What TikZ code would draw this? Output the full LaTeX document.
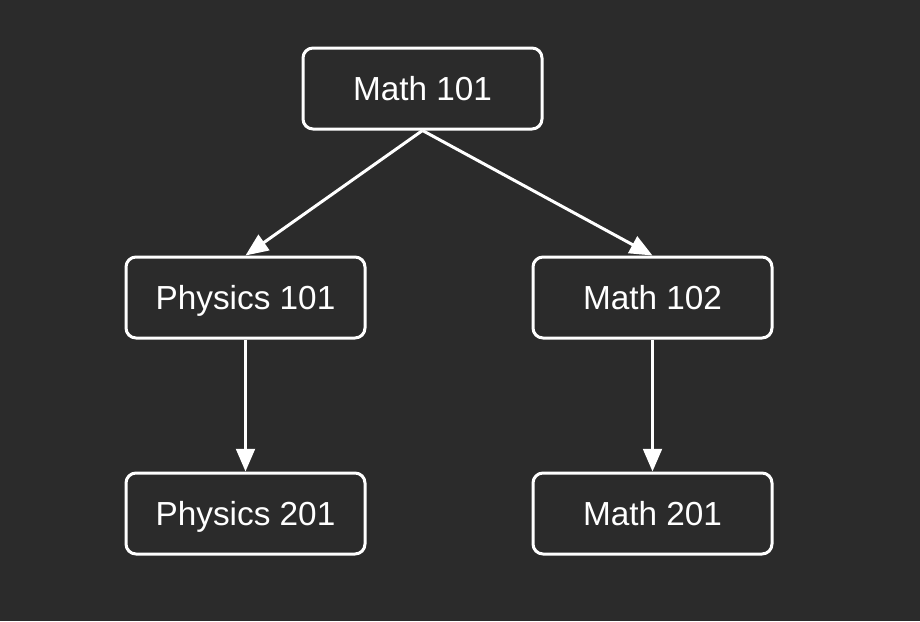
\documentclass[tikz,border=0pt]{standalone}
\usepackage{fontspec}
\setmainfont{Liberation Sans}
\usepackage{tikz}
\usetikzlibrary{positioning, arrows.meta}
\definecolor{bgdark}{HTML}{2B2B2B}

\begin{document}
\begin{tikzpicture}[x=0.75pt, y=-0.75pt]
        \tikzset{course/.style = {draw=white, line width=2.25pt, rounded corners=7.5pt, fill=bgdark, text=white,
                minimum width=179.25pt, minimum height=60.75pt, text height=17.9pt, text depth=0pt,
                font=\fontsize{25}{28}\selectfont}}
        \tikzset{edge/.style = {draw=white, line width=2.25pt, -{Triangle[length=17pt, width=14pt]}}}

        % background
        \fill[bgdark] (0,0) rectangle (920,621);
        \useasboundingbox (0,0) rectangle (920,621);

        % courses
        \node[course] (math101) at (422.5, 88.5) {Math 101};
        \node[course] (phys101) at (245.5, 297.5) {Physics 101};
        \node[course] (math102) at (652.5, 297.5) {Math 102};
        \node[course] (phys201) at (245.5, 513.5) {Physics 201};
        \node[course] (math201) at (652.5, 513.5) {Math 201};

        % prerequisites
        \draw[edge] (math101.south) -- (phys101.north);
        \draw[edge] (math101.south) -- (math102.north);
        \draw[edge] (phys101.south) -- (phys201.north);
        \draw[edge] (math102.south) -- (math201.north);

\end{tikzpicture}
\end{document}
